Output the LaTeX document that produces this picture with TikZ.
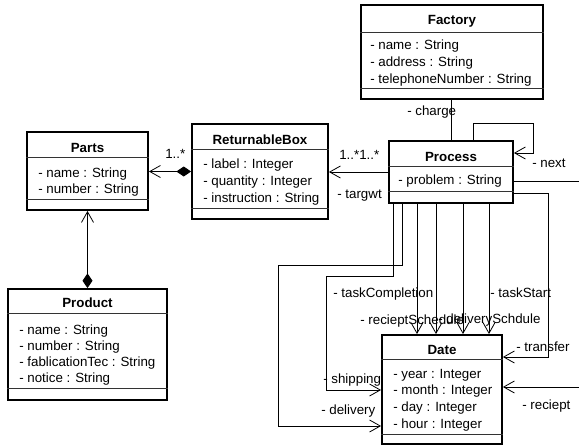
\documentclass[tikz,border=0pt]{standalone}
\usepackage{fontspec}
\setmainfont{Liberation Sans}
\usetikzlibrary{arrows.meta,fit}

% class box: name, x1, y1, x2, y2, title separator, attribute separator
\newcommand\umlbox[7]{%
  \node[classbox, fit={(#2,#3) (#4,#5)}] (#1) {};
  \draw[sepline] (#1.west |- 0,#6) -- (#1.east |- 0,#6);
  \draw[sepline] (#1.west |- 0,#7) -- (#1.east |- 0,#7);}
% attribute lines: name prefix, x, first baseline, line step, list
\newcommand\attrlines[5]{%
  \foreach \txt [count=\k] in {#5}
    \node[attr] (#1\k) at (#2, {#3+(\k-1)*#4}) {\txt};}

\begin{document}
\begin{tikzpicture}[x=0.75pt,y=-0.75pt,
  classbox/.style={draw=black, line width=1.4pt, inner sep=0pt, fill=white},
  sepline/.style={draw=black!80, line width=0.6pt},
  ctitle/.style={font=\fontsize{10}{12}\selectfont\bfseries, anchor=base, inner sep=0pt},
  attr/.style={font=\fontsize{10}{12}\selectfont, anchor=base west, inner sep=0pt},
  lbl/.style={font=\fontsize{10}{12}\selectfont, anchor=base west, inner sep=0pt},
  conn/.style={draw=black, line width=0.6pt},
  assoc/.style={conn, -{Straight Barb[length=8pt,width=9pt]}},
  comp/.style={conn, {Diamond[length=11pt,width=7.5pt]}-{Straight Barb[length=8pt,width=9pt]}},
]
\useasboundingbox (0,0) rectangle (579,446);

% classes
\umlbox{factory}{361}{5}{543}{99}{32}{88}
\node[ctitle] (factoryT) at (factory.center |- 0,25) {Factory};
\attrlines{factoryA}{370}{49}{17}{- name : String, - address : String, - telephoneNumber : String}

\umlbox{process}{389}{141}{513}{203}{166}{191}
\node[ctitle] (processT) at (process.center |- 0,161) {Process};
\attrlines{processA}{398}{184}{17}{- problem : String}

\umlbox{rb}{192}{124}{328}{219}{149}{208}
\node[ctitle] (rbT) at (rb.center |- 0,144) {ReturnableBox};
\attrlines{rbA}{203}{168}{17}{- label : Integer, - quantity : Integer, - instruction : String}

\umlbox{parts}{27}{132}{148}{210}{157}{199}
\node[ctitle] (partsT) at (parts.center |- 0,152) {Parts};
\attrlines{partsA}{38}{177}{16}{- name : String, - number : String}

\umlbox{product}{8}{289}{167}{400}{313}{388}
\node[ctitle] (productT) at (product.center |- 0,307) {Product};
\attrlines{productA}{19}{334}{16}{- name : String, - number : String, - fablicationTec : String, - notice : String}

\umlbox{date}{382}{335}{502}{444}{359}{434}
\node[ctitle] (dateT) at (date.center |- 0,354) {Date};
\attrlines{dateA}{393}{378}{16.7}{- year : Integer, - month : Integer, - day : Integer, - hour : Integer}

% compositions and associations
\draw[comp] (rb.west) -- (rb.west -| parts.east);
\draw[comp] (product.north) -- (product.north |- parts.south);
\draw[assoc] (process.west) -- (process.west -| rb.east);
\draw[conn] (process.north) -- (process.north |- factory.south);
\draw[assoc] (process.north -| 473,0) |- (533,123) |- (process.east |- 0,153);

\begin{scope}
  \clip (0,0) rectangle (579,446);
  \draw[assoc] (process.east |- 0,181) -- (600,181) -- (600,387) -- (date.east |- 0,387);
\end{scope}
\draw[assoc] (process.east |- 0,193) -| (548,357) -- (date.east |- 0,357);

\foreach \xx in {417,436,463,489}
  \draw[assoc] (process.south -| \xx,0) -- (date.north -| \xx,0);
\draw[assoc] (process.south -| 402,0) |- (278,265) |- (date.west |- 0,426);
\draw[assoc] (process.south -| 393,0) |- (326,276) |- (date.west |- 0,390);

% role names and multiplicities
\node[lbl] (lcharge) at (407,115) {- charge};
\node[lbl] (lnext) at (532,167) {- next};
\node[lbl] (lmul1) at (165,158) {1..*};
\node[lbl] (lmul2) at (339,159) {1..*1..*};
\node[lbl] (ltarg) at (337,198) {- targwt};
\node[lbl] (ltc) at (333,297) {- taskCompletion};
\node[lbl] (lrs) at (360,324) {- recieptSchedule};
\node[lbl] (lds) at (438,323) {- deliverySchdule};
\node[lbl] (lts) at (490,297) {- taskStart};
\node[lbl] (ltr) at (516,351) {- transfer};
\node[lbl] (lsh) at (323,383) {- shipping};
\node[lbl] (ldl) at (321,414) {- delivery};
\node[lbl] (lrc) at (522,409) {- reciept};
\end{tikzpicture}
\end{document}
